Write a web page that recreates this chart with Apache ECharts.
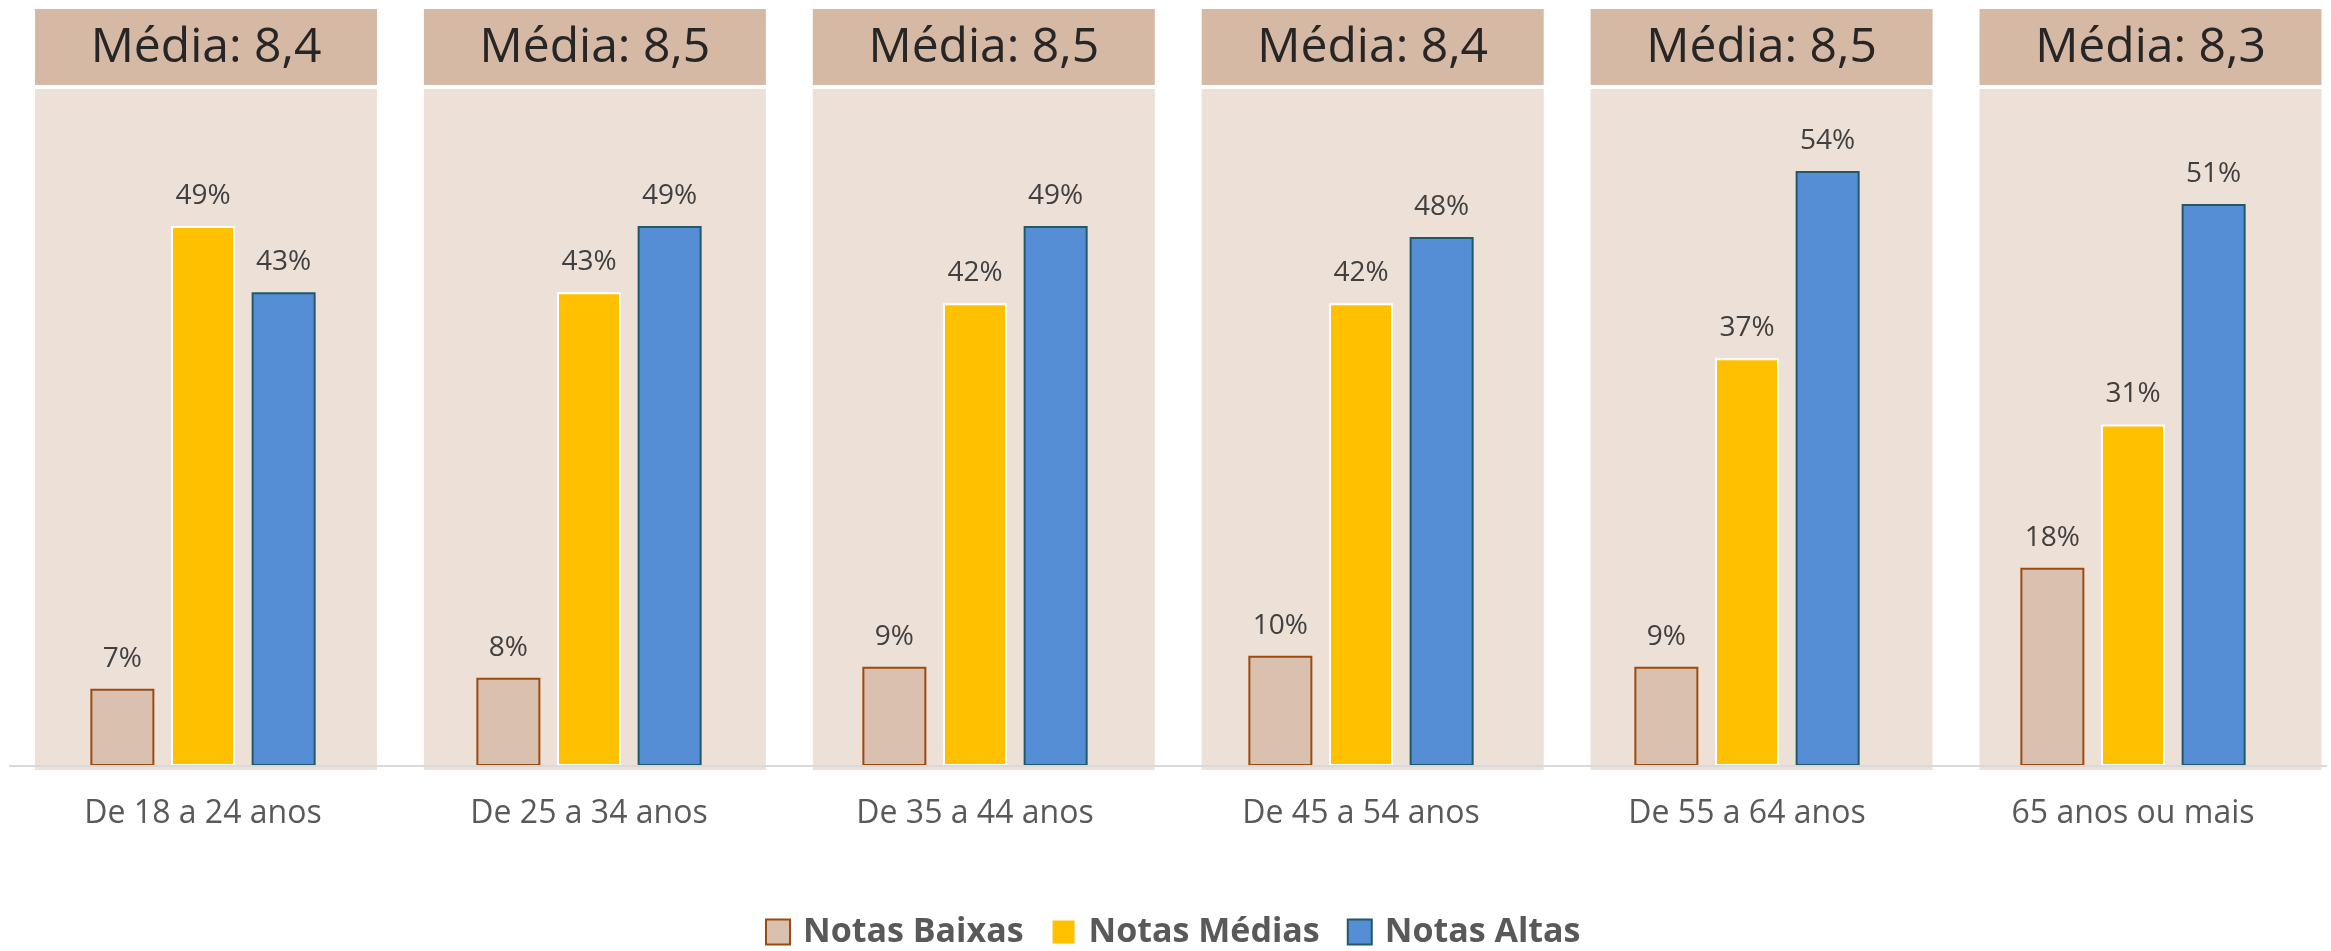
<!DOCTYPE html>
<html>
<head>
<meta charset="utf-8">
<script src="https://cdn.jsdelivr.net/npm/echarts@6/dist/echarts.min.js"></script>
<style>
  html, body { margin: 0; padding: 0; background: #fff; }
  #chart { width: 2331px; height: 951px; }
</style>
</head>
<body>
<div id="chart"></div>
<script>
const categories = ['De 18 a 24 anos', 'De 25 a 34 anos', 'De 35 a 44 anos', 'De 45 a 54 anos', 'De 55 a 64 anos', '65 anos ou mais']
const mediaScores = ['8,4', '8,5', '8,5', '8,4', '8,5', '8,3']
const notasBaixas = [7, 8, 9, 10, 9, 18]
const notasMedias = [49, 43, 42, 42, 37, 31]
const notasAltas = [43, 49, 49, 48, 54, 51]

const chart = echarts.init(document.getElementById('chart'))

const labelStyle = {
  show: true,
  position: 'top',
  distance: 16,
  formatter: '{c}%',
  color: '#404040',
  fontSize: 28,
  fontFamily: 'Open Sans',
}

// panel behind each age group: header with the average + light background
function renderPanel(params, api) {
  const idx = api.value(0)
  const base = api.coord([idx, 0])
  const band = api.size([1, 0])[0]
  const w = band * 0.886
  const cx = base[0] + 3 + 2.9 * idx
  const top = params.coordSys.y
  return {
    type: 'group',
    children: [
      {
        type: 'rect',
        shape: { x: cx - w / 2, y: top + 80, width: w, height: base[1] + 4 - (top + 80) },
        style: { fill: '#EDE0D7' },
      },
      {
        type: 'rect',
        shape: { x: cx - w / 2, y: top, width: w, height: 76 },
        style: { fill: '#D6B9A4' },
      },
      {
        type: 'text',
        style: {
          text: 'Média: ' + mediaScores[idx],
          x: cx,
          y: top + 39,
          align: 'center',
          verticalAlign: 'middle',
          fontSize: 48,
          fontFamily: 'Open Sans',
          fill: '#262626',
        },
      },
    ],
  }
}

const option = {
  animation: false,
  grid: {
    left: 10,
    right: 5,
    top: 9,
    bottom: 185,
  },
  legend: {
    data: ['Notas Baixas', 'Notas Médias', 'Notas Altas'],
    left: 760,
    top: 910,
    icon: 'rect',
    itemWidth: 24,
    itemHeight: 25,
    itemGap: 27,
    textStyle: {
      color: '#595959',
      fontSize: 34,
      fontWeight: 'bold',
      fontFamily: 'Open Sans',
      padding: [0, 0, 0, 8],
    },
  },
  xAxis: {
    type: 'category',
    data: categories,
    z: 3,
    axisLine: { lineStyle: { color: '#D9D9D9', width: 2 } },
    axisTick: { show: false },
    axisLabel: {
      color: '#595959',
      fontSize: 32,
      fontFamily: 'Open Sans',
      margin: 32,
    },
  },
  yAxis: {
    type: 'value',
    min: 0,
    max: 68.7,
    show: false,
    splitLine: { show: false },
  },
  series: [
    {
      type: 'custom',
      renderItem: renderPanel,
      data: categories.map((c, i) => [i, mediaScores[i]]),
      encode: { x: 0 },
      z: 0,
      silent: true,
    },
    {
      name: 'Notas Baixas',
      type: 'bar',
      data: notasBaixas,
      barWidth: 64,
      barGap: '26%',
      z: 2,
      itemStyle: { color: '#DAC1AF', borderColor: '#9E4A0E', borderWidth: 2 },
      label: labelStyle,
    },
    {
      name: 'Notas Médias',
      type: 'bar',
      data: notasMedias,
      barWidth: 64,
      barGap: '26%',
      z: 2,
      itemStyle: { color: '#FFC000', borderColor: '#FFFFFF', borderWidth: 2 },
      label: labelStyle,
    },
    {
      name: 'Notas Altas',
      type: 'bar',
      data: notasAltas,
      barWidth: 64,
      barGap: '26%',
      z: 2,
      itemStyle: { color: '#558ED5', borderColor: '#215968', borderWidth: 2 },
      label: labelStyle,
    },
  ],
}

chart.setOption(option)
window.addEventListener('resize', () => chart.resize())
</script>
</body>
</html>
